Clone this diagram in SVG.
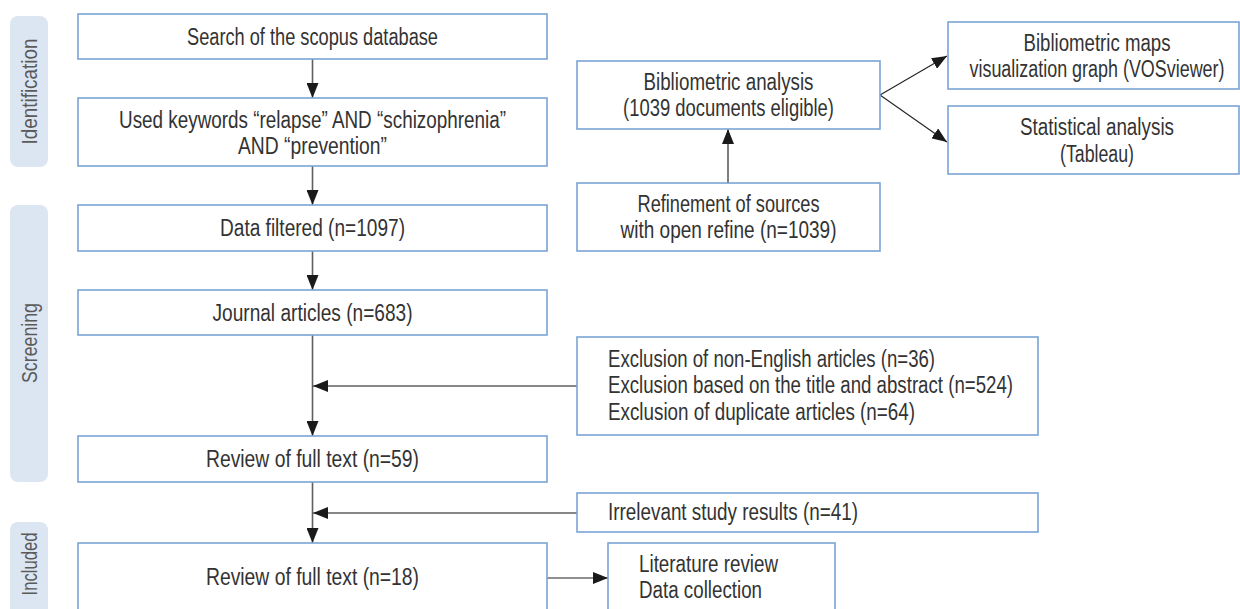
<svg xmlns="http://www.w3.org/2000/svg" width="1240" height="609" viewBox="0 0 1240 609">
<defs>
<style>
.bx{fill:#fff;stroke:#7aa3d6;stroke-width:1.6}
.bar{fill:#dce6f3}
.t{font-family:"Liberation Sans","Roboto",Arial,sans-serif;font-size:23px;fill:#333}
.m{text-anchor:middle}
.side{font-family:"Liberation Sans","Roboto",Arial,sans-serif;font-size:22px;fill:#5a5a5a;text-anchor:middle}
.ln{stroke:#5f5f5f;stroke-width:1.6;fill:none}
.lk{stroke:#222;stroke-width:1.1;fill:none}
</style>
<marker id="ah" markerUnits="userSpaceOnUse" markerWidth="15" markerHeight="12" refX="15" refY="6" orient="auto">
<path d="M0,0 L15,6 L0,12 Z" fill="#1a1a1a"/>
</marker>
</defs>
<rect width="1240" height="609" fill="#fff"/>

<g id="phase-labels">
<rect class="bar" x="10" y="16" width="38" height="151" rx="8"/>
<text class="side" transform="translate(37,91.5) rotate(-90)" textLength="106" lengthAdjust="spacingAndGlyphs">Identification</text>
<rect class="bar" x="10" y="205" width="38" height="277" rx="8"/>
<text class="side" transform="translate(37,343) rotate(-90)" textLength="80" lengthAdjust="spacingAndGlyphs">Screening</text>
<rect class="bar" x="10" y="522" width="38" height="100" rx="8"/>
<text class="side" transform="translate(37,564) rotate(-90)" textLength="63" lengthAdjust="spacingAndGlyphs">Included</text>
</g>

<g id="connectors">
<line class="ln" x1="312.5" y1="59" x2="312.5" y2="98" marker-end="url(#ah)"/>
<line class="ln" x1="312.5" y1="166" x2="312.5" y2="205" marker-end="url(#ah)"/>
<line class="ln" x1="312.5" y1="251" x2="312.5" y2="290" marker-end="url(#ah)"/>
<line class="ln" x1="312.5" y1="335" x2="312.5" y2="436" marker-end="url(#ah)"/>
<line class="ln" x1="577" y1="386" x2="313" y2="386" marker-end="url(#ah)"/>
<line class="ln" x1="312.5" y1="482" x2="312.5" y2="543" marker-end="url(#ah)"/>
<line class="ln" x1="577" y1="513" x2="313" y2="513" marker-end="url(#ah)"/>
<line class="lk" x1="547" y1="578" x2="608" y2="578" marker-end="url(#ah)"/>
<line class="ln" x1="728" y1="183" x2="728" y2="129" marker-end="url(#ah)"/>
<line class="lk" x1="880" y1="95" x2="947" y2="56" marker-end="url(#ah)"/>
<line class="lk" x1="880" y1="95" x2="947" y2="142" marker-end="url(#ah)"/>
</g>

<g id="n-search">
<rect class="bx" x="78" y="14" width="469" height="45"/>
<text class="t m" x="312.5" y="44.5" textLength="251" lengthAdjust="spacingAndGlyphs">Search of the scopus database</text>
</g>
<g id="n-keywords">
<rect class="bx" x="78" y="98" width="469" height="68"/>
<text class="t m" x="312.5" y="128" textLength="387" lengthAdjust="spacingAndGlyphs">Used keywords “relapse” AND “schizophrenia”</text>
<text class="t m" x="312.5" y="154" textLength="149" lengthAdjust="spacingAndGlyphs">AND “prevention”</text>
</g>
<g id="n-filtered">
<rect class="bx" x="78" y="205" width="469" height="46"/>
<text class="t m" x="312.5" y="236" textLength="185" lengthAdjust="spacingAndGlyphs">Data filtered (n=1097)</text>
</g>
<g id="n-journal">
<rect class="bx" x="78" y="290" width="469" height="45"/>
<text class="t m" x="312.5" y="320.5" textLength="200" lengthAdjust="spacingAndGlyphs">Journal articles (n=683)</text>
</g>
<g id="n-review59">
<rect class="bx" x="78" y="436" width="469" height="46"/>
<text class="t m" x="312.5" y="467" textLength="213" lengthAdjust="spacingAndGlyphs">Review of full text (n=59)</text>
</g>
<g id="n-review18">
<rect class="bx" x="78" y="543" width="469" height="80"/>
<text class="t m" x="312.5" y="585" textLength="213" lengthAdjust="spacingAndGlyphs">Review of full text (n=18)</text>
</g>
<g id="n-biblio">
<rect class="bx" x="577" y="61" width="303" height="68"/>
<text class="t m" x="728.5" y="90" textLength="170" lengthAdjust="spacingAndGlyphs">Bibliometric analysis</text>
<text class="t m" x="728.5" y="116" textLength="211" lengthAdjust="spacingAndGlyphs">(1039 documents eligible)</text>
</g>
<g id="n-refine">
<rect class="bx" x="577" y="183" width="303" height="68"/>
<text class="t m" x="728.5" y="212" textLength="182" lengthAdjust="spacingAndGlyphs">Refinement of sources</text>
<text class="t m" x="728.5" y="238" textLength="216" lengthAdjust="spacingAndGlyphs">with open refine (n=1039)</text>
</g>
<g id="n-maps">
<rect class="bx" x="948" y="22" width="291" height="67"/>
<text class="t m" x="1097" y="51" textLength="147" lengthAdjust="spacingAndGlyphs">Bibliometric maps</text>
<text class="t m" x="1097" y="77" textLength="255" lengthAdjust="spacingAndGlyphs">visualization graph (VOSviewer)</text>
</g>
<g id="n-stats">
<rect class="bx" x="948" y="106" width="291" height="68"/>
<text class="t m" x="1097" y="135" textLength="154" lengthAdjust="spacingAndGlyphs">Statistical analysis</text>
<text class="t m" x="1097" y="162" textLength="74" lengthAdjust="spacingAndGlyphs">(Tableau)</text>
</g>
<g id="n-exclusion">
<rect class="bx" x="577" y="337" width="461" height="98"/>
<text class="t" x="608" y="367" textLength="327" lengthAdjust="spacingAndGlyphs">Exclusion of non-English articles (n=36)</text>
<text class="t" x="608" y="393" textLength="405" lengthAdjust="spacingAndGlyphs">Exclusion based on the title and abstract (n=524)</text>
<text class="t" x="608" y="420" textLength="307" lengthAdjust="spacingAndGlyphs">Exclusion of duplicate articles (n=64)</text>
</g>
<g id="n-irrelevant">
<rect class="bx" x="577" y="493" width="461" height="39"/>
<text class="t" x="608" y="520" textLength="250" lengthAdjust="spacingAndGlyphs">Irrelevant study results (n=41)</text>
</g>
<g id="n-literature">
<rect class="bx" x="608" y="543" width="227" height="80"/>
<text class="t" x="639" y="572" textLength="139" lengthAdjust="spacingAndGlyphs">Literature review</text>
<text class="t" x="639" y="598" textLength="123" lengthAdjust="spacingAndGlyphs">Data collection</text>
</g>
</svg>
